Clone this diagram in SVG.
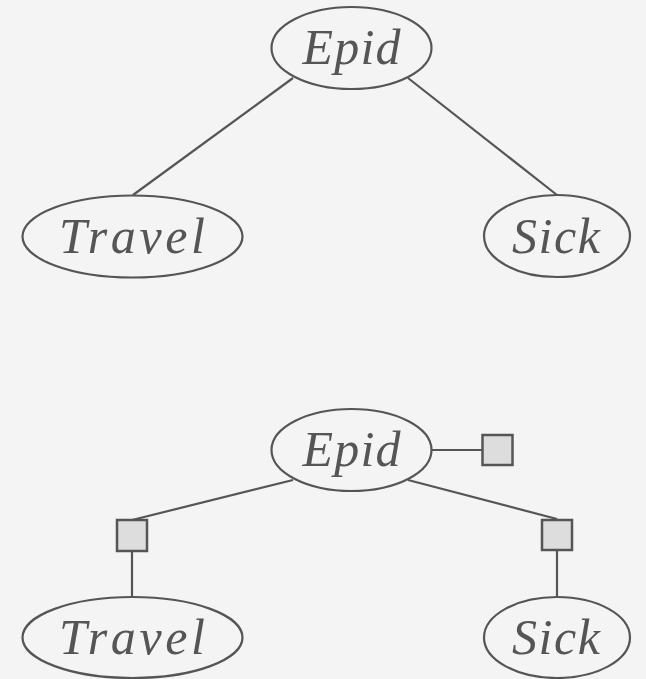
<svg xmlns="http://www.w3.org/2000/svg" width="646" height="679" viewBox="0 0 646 679">
<style>
.bg{fill:#f4f4f4}
.node ellipse{fill:none;stroke:#555;stroke-width:2.2}
.node text{font-family:"Liberation Serif","DejaVu Serif",serif;font-style:italic;font-size:50px;fill:#555;text-anchor:middle}
.edges line{stroke:#555;stroke-width:2.2}
.factor rect{fill:#dddddd;stroke:#555;stroke-width:2.5}
</style>
<rect class="bg" x="0" y="0" width="646" height="679"/>
<g class="edges">
<line x1="293" y1="78" x2="133" y2="195"/>
<line x1="408" y1="78" x2="557" y2="195"/>
<line x1="432" y1="450" x2="482" y2="450"/>
<line x1="293" y1="480" x2="132" y2="520"/>
<line x1="408" y1="480" x2="557" y2="519"/>
<line x1="132" y1="552" x2="132" y2="597"/>
<line x1="557" y1="551" x2="557" y2="597"/>
</g>
<g id="epid1" class="node"><ellipse cx="351.5" cy="48" rx="80" ry="41"/><text x="351.5" y="64" textLength="98" lengthAdjust="spacing">Epid</text></g>
<g id="travel1" class="node"><ellipse cx="132.5" cy="236.5" rx="110" ry="41"/><text x="132" y="253" textLength="146" lengthAdjust="spacing">Travel</text></g>
<g id="sick1" class="node"><ellipse cx="557" cy="236" rx="73" ry="41"/><text x="556" y="253" textLength="88" lengthAdjust="spacing">Sick</text></g>
<g id="epid2" class="node"><ellipse cx="351.5" cy="450" rx="80" ry="41"/><text x="351.5" y="466" textLength="98" lengthAdjust="spacing">Epid</text></g>
<g id="travel2" class="node"><ellipse cx="132.5" cy="637.5" rx="110" ry="40.5"/><text x="132" y="654" textLength="146" lengthAdjust="spacing">Travel</text></g>
<g id="sick2" class="node"><ellipse cx="557" cy="637.5" rx="73" ry="40.5"/><text x="556" y="654" textLength="88" lengthAdjust="spacing">Sick</text></g>
<g id="f_epid" class="factor"><rect x="482.5" y="435" width="30" height="30"/></g>
<g id="f_travel" class="factor"><rect x="117" y="520" width="30" height="31"/></g>
<g id="f_sick" class="factor"><rect x="542" y="520" width="30" height="30"/></g>
</svg>
